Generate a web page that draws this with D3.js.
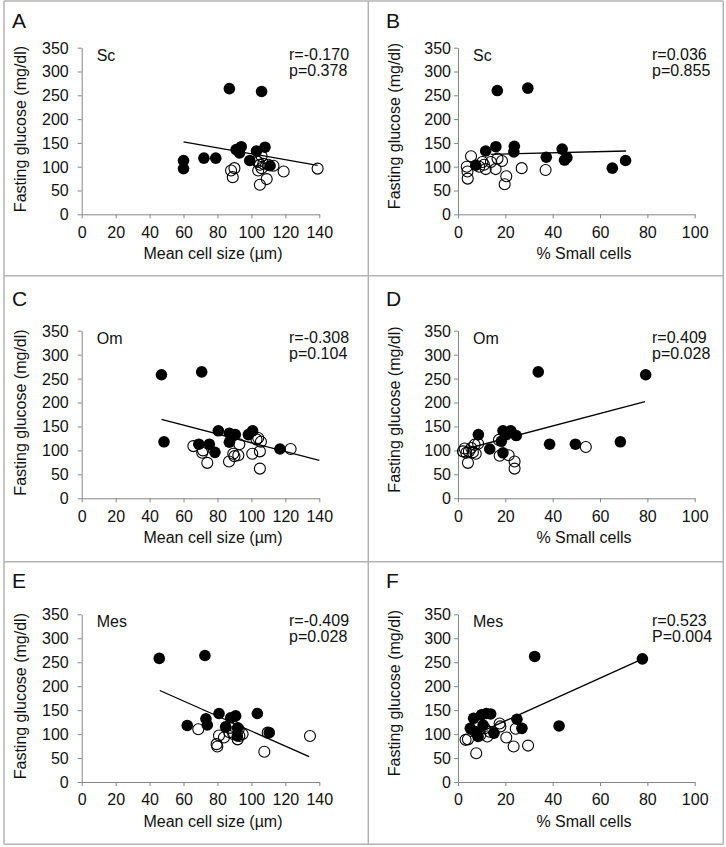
<!DOCTYPE html>
<html>
<head>
<meta charset="utf-8">
<script src="https://cdn.jsdelivr.net/npm/d3@7"></script>
<style>
  html, body { margin: 0; padding: 0; background: #fff; }
  svg { display: block; }
  text { font-family: "Liberation Sans", Arial, sans-serif; fill: #111; }
</style>
</head>
<body>
<svg id="chart" width="726" height="847"></svg>
<script>
// ---------------- data ----------------
const panelLetters = ["A", "B", "C", "D", "E", "F"];
const depotLabels = ["Sc", "Sc", "Om", "Om", "Mes", "Mes"];
const rTexts = ["r=-0.170", "r=0.036", "r=-0.308", "r=0.409", "r=-0.409", "r=0.523"];
const pTexts = ["p=0.378", "p=0.855", "p=0.104", "p=0.028", "p=0.028", "P=0.004"];
const xTitles = ["Mean cell size (µm)", "% Small cells", "Mean cell size (µm)", "% Small cells", "Mean cell size (µm)", "% Small cells"];
const yTitle = "Fasting glucose (mg/dl)";

const sizeTicks = [0, 20, 40, 60, 80, 100, 120, 140];
const smallTicks = [0, 20, 40, 60, 80, 100];
const glucoseTicks = [0, 50, 100, 150, 200, 250, 300, 350];

// Panel A: Sc, mean cell size vs glucose
const filledA = [[60,113],[60,96],[72,118],[79,118],[87,264],[106,258],[91,136],[94,142],[93,129],[99,113],[103,133],[108,141],[111,102]];
const openA = [[139,96],[119,90],[113,102],[110,104],[109,74],[105,62],[106,122],[104,110],[106,97],[104,92],[107,106],[88,92],[90,97],[89,78],[105,104],[103,112]];
const fitA = [[60,152],[139,103]];

// Panel B: Sc, % small cells vs glucose
const filledB = [[16.6,260],[29.5,265],[11.7,133],[16,142],[23.8,143],[23.6,131],[7.5,103],[37.3,120],[44,137],[45,114],[46,119],[65.2,97],[70.8,113]];
const openB = [[5.5,122],[3.7,100],[4,90],[4.1,75],[10.3,110],[11,104],[11.7,95],[13.9,110],[15.9,95],[16.7,117],[18.6,112],[20.4,80],[19.7,63],[26.9,97],[37,93],[9,100]];
const fitB = [[14,126],[71,133]];

// Panel C: Om, mean cell size vs glucose
const filledC = [[47,258],[70.7,264],[48.5,118],[80.5,141],[87,136],[90.5,133],[87,117],[69,113],[75.2,113],[78.5,96],[98.2,133],[100.7,141],[116.8,103]];
const openC = [[65.8,109],[71,95],[74,74],[86.8,77],[89.3,93],[92.3,90],[92.9,113],[100.5,93],[103,123],[105,98],[105.6,118],[105,62],[123.1,103],[71.5,100],[104,126],[90,88]];
const fitC = [[47,165],[140,79]];

// Panel D: Om, % small cells vs glucose
const filledD = [[33.9,264],[79.3,258],[8.6,133],[13.4,103],[19,141],[22.3,141],[20.4,133],[24.6,131],[18.3,119],[19,95],[38.7,113],[49.6,113],[68.6,118]];
const openD = [[54,107],[4.2,74],[2.1,98],[2.8,104],[4.6,98],[5.6,105],[6.3,96],[7.5,93],[8.5,114],[7,112],[17.6,89],[17.3,122],[21.4,90],[23.9,77],[23.9,62],[3.5,95]];
const fitD = [[4,104],[79,202]];

// Panel E: Mes, mean cell size vs glucose
const filledE = [[45.7,258],[72.6,264],[62.2,118],[73.2,132],[74,119],[80.9,143],[84.8,115],[87.8,134],[90.7,138],[91.9,113],[91.7,96],[103.5,143],[110.5,103]];
const openE = [[68.7,110],[79.5,79],[79.9,74],[80.9,97],[83.8,93],[87,104],[89.3,100],[91.9,89],[92.9,96],[94.8,100],[107.6,63],[109.6,103],[134.5,96],[87.4,113],[89.3,117],[92.5,110]];
const fitE = [[46,191],[134,53]];

// Panel F: Mes, % small cells vs glucose
const filledF = [[32.4,262],[77.9,257],[42.7,117],[6.6,133],[9.9,140],[12,143],[13.8,142],[24.9,131],[27,112],[5.2,112],[7.7,105],[8.5,95],[10.6,119],[15.2,102]];
const openF = [[3.2,88],[4.2,89],[7.7,60],[9.4,98],[12.4,95],[13.4,105],[17.6,122],[17.9,116],[20.4,93],[23.5,74],[24.4,111],[29.6,76],[11.3,112]];
const fitF = [[5,94],[78,257]];

const filledSets = [filledA, filledB, filledC, filledD, filledE, filledF];
const openSets = [openA, openB, openC, openD, openE, openF];
const fitSets = [fitA, fitB, fitC, fitD, fitE, fitF];

// ---------------- layout ----------------
const colX0 = [81.7, 458], colX1 = [319.3, 694.7];
const rowY0 = [214.3, 498.3, 782], rowY1 = [47.7, 330.7, 614.3];
const yTickPad = [9, 3];
const statX = [289, 652];
const xTitleX = [213, 584];
const letterX = [12, 386];
const letterY = [28, 306, 588];
const yTitleShift = [-2, -5];
const axisColor = "#868686";
const borderColor = "#b3b3b3";

const svg = d3.select("#chart");

// panel borders
const vLines = [4, 368.3, 723.3];
const hLines = [1, 275.7, 561.7, 844.3];
svg.append("g").selectAll("line.v").data(vLines).join("line")
  .attr("x1", d => d).attr("x2", d => d).attr("y1", hLines[0]).attr("y2", hLines[3])
  .attr("stroke", borderColor).attr("stroke-width", 1.5);
svg.append("g").selectAll("line.h").data(hLines).join("line")
  .attr("y1", d => d).attr("y2", d => d).attr("x1", vLines[0]).attr("x2", vLines[2])
  .attr("stroke", borderColor).attr("stroke-width", 1.5);

panelLetters.forEach((letter, i) => {
  const col = i % 2, row = Math.floor(i / 2);
  const xTicks = col === 0 ? sizeTicks : smallTicks;
  const x = d3.scaleLinear().domain([xTicks[0], xTicks[xTicks.length - 1]]).range([colX0[col], colX1[col]]);
  const y = d3.scaleLinear().domain([0, 350]).range([rowY0[row], rowY1[row]]);
  const g = svg.append("g");

  // axes
  const xAxis = g.append("g").attr("transform", `translate(0,${rowY0[row]})`)
    .call(d3.axisBottom(x).tickValues(xTicks).tickSize(4).tickSizeOuter(0).tickPadding(8));
  const yAxis = g.append("g").attr("transform", `translate(${colX0[col]},0)`)
    .call(d3.axisLeft(y).tickValues(glucoseTicks).tickSize(4).tickSizeOuter(0).tickPadding(yTickPad[col]));
  [xAxis, yAxis].forEach(a => {
    a.selectAll("path, line").attr("stroke", axisColor).attr("stroke-width", 1);
    a.selectAll("text").attr("font-size", 16).attr("fill", "#111")
      .attr("font-family", "'Liberation Sans', Arial, sans-serif");
  });
  yAxis.selectAll("text").attr("dy", "0.34em");

  // regression line
  g.append("path").datum(fitSets[i])
    .attr("d", d3.line().x(d => x(d[0])).y(d => y(d[1])))
    .attr("stroke", "#000").attr("stroke-width", 1.3).attr("fill", "none");

  // points
  g.append("g").selectAll("circle").data(filledSets[i]).join("circle")
    .attr("cx", d => x(d[0])).attr("cy", d => y(d[1])).attr("r", 5.8)
    .attr("fill", "#000");
  g.append("g").selectAll("circle").data(openSets[i]).join("circle")
    .attr("cx", d => x(d[0])).attr("cy", d => y(d[1])).attr("r", 5.5)
    .attr("fill", "none").attr("stroke", "#000").attr("stroke-width", 1.1);

  // texts
  g.append("text").attr("x", letterX[col]).attr("y", letterY[row])
    .attr("font-size", 21).text(letter);
  g.append("text").attr("x", colX0[col] + 15).attr("y", rowY1[row] + 13)
    .attr("font-size", 16).text(depotLabels[i]);
  g.append("text").attr("x", statX[col]).attr("y", rowY1[row] + 12)
    .attr("font-size", 16).text(rTexts[i]);
  g.append("text").attr("x", statX[col]).attr("y", rowY1[row] + 28)
    .attr("font-size", 16).text(pTexts[i]);
  g.append("text").attr("x", xTitleX[col]).attr("y", rowY0[row] + 45)
    .attr("text-anchor", "middle").attr("font-size", 16).text(xTitles[i]);
  const cy = (rowY0[row] + rowY1[row]) / 2 + yTitleShift[col];
  const tx = colX0[col] - (col === 0 ? 56 : 58);
  g.append("text").attr("transform", `translate(${tx},${cy}) rotate(-90)`)
    .attr("text-anchor", "middle").attr("font-size", 16).text(yTitle);
});
</script>
</body>
</html>
